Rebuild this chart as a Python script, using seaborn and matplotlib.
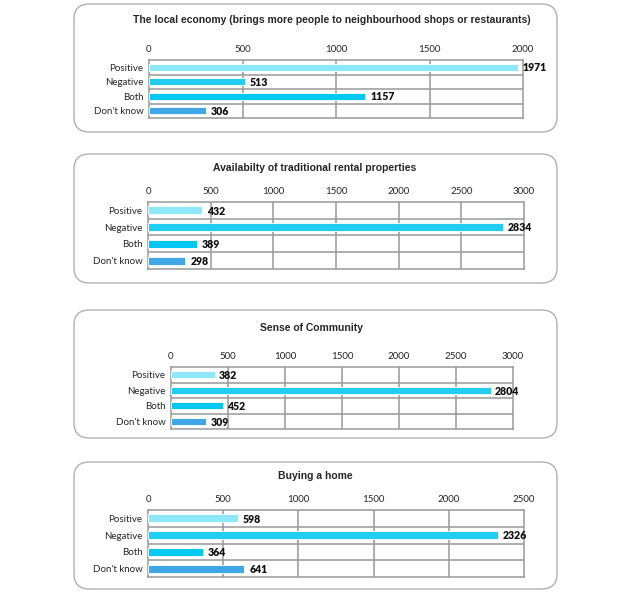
import numpy as np
import pandas as pd
import matplotlib.pyplot as plt
import seaborn as sns
from matplotlib.patches import FancyBboxPatch

categories = ['Positive', 'Negative', 'Both', "Don't know"]
titles = ['The local economy (brings more people to neighbourhood shops or restaurants)',
          'Availabilty of traditional rental properties',
          'Sense of Community',
          'Buying a home']
economy = [1971, 513, 1157, 306]
rental = [432, 2834, 389, 298]
community = [382, 2804, 452, 309]
buying = [598, 2326, 364, 641]
xmax = [2000, 3000, 3000, 2500]
palette = ['#8de8fa', '#21cdf0', '#00c8f2', '#3fa7e6']

W, H = 629, 600
sns.set_theme(style='white')
plt.rcParams['font.family'] = ['Lato', 'DejaVu Sans']

fig = plt.figure(figsize=(W/100, H/100), dpi=100)

# boxes (pixels): left, top, right, bottom ; axes (pixels): left, top, right, bottom
boxes = [(74, 4, 557, 132), (74, 154, 557, 283), (74, 310, 557, 438), (74, 462, 557, 589)]
axpos = [(149, 60, 523, 118), (148, 202, 524, 269), (171, 367, 513, 429), (148, 510, 524, 577)]
title_xy = [(332, 20), (315, 168), (311, 328), (315, 476)]

datasets = [economy, rental, community, buying]

for i, vals in enumerate(datasets):
    bl, bt, br, bb = boxes[i]
    box = FancyBboxPatch((bl/W, 1-bb/H), (br-bl)/W, (bb-bt)/H,
                         boxstyle='round,pad=0,rounding_size=0.025',
                         transform=fig.transFigure, facecolor='white',
                         edgecolor='#b0b0b0', linewidth=1.0, zorder=-1)
    fig.patches.append(box)

    al, at, ar, ab = axpos[i]
    ax = fig.add_axes([al/W, 1-ab/H, (ar-al)/W, (ab-at)/H])
    ax.set_facecolor('none')
    df = pd.DataFrame({'cat': categories, 'val': vals})
    sns.barplot(data=df, x='val', y='cat', hue='cat', palette=palette,
                orient='h', width=0.48, legend=False, ax=ax, saturation=1,
                edgecolor='white', linewidth=0.6, zorder=3)
    ax.set_xlim(0, xmax[i])
    ax.set_ylim(3.5, -0.5)
    ax.set_xticks(np.arange(0, xmax[i]+1, 500))
    ax.xaxis.tick_top()
    ax.tick_params(axis='x', length=0, pad=4, labelsize=7)
    ax.tick_params(axis='y', length=0, pad=4, labelsize=7)
    ax.set_xlabel('')
    ax.set_ylabel('')
    for x in np.arange(500, xmax[i], 500):
        ax.axvline(x, color='#999999', lw=1.1, zorder=1)
    for y in [0.5, 1.5, 2.5]:
        ax.axhline(y, color='#999999', lw=1.1, zorder=1)
    for s in ax.spines.values():
        s.set_color('#999999')
        s.set_linewidth(1.1)
    for j, v in enumerate(vals):
        ax.text(v + xmax[i]*0.013, j + 0.05, str(v), va='center', ha='left',
                fontsize=7.6, fontweight='heavy', color='#111111', zorder=4)
    tx, ty = title_xy[i]
    fig.text(tx/W, 1-ty/H, titles[i], ha='center', va='center',
             fontsize=7.45, fontweight='bold', family=['Liberation Sans', 'DejaVu Sans'])

fig.savefig('out.png', dpi=100)
